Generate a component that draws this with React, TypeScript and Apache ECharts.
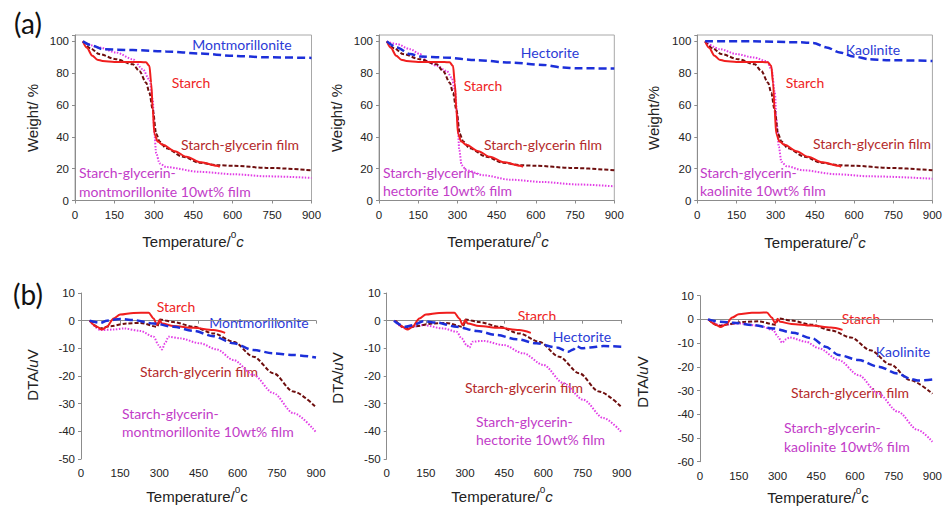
import React, { useEffect, useRef } from "react";
import * as echarts from "echarts";

type P = [number, number];

// ---- TGA (weight %) ----
const tgaStarch: P[] = [[30,100],[45,96],[66,91],[85,88.5],[105,87.7],[150,87.1],[200,87],[250,87],[270,86.8],[283,84.6],[290,74],[296,57],[302,42],[315,37],[334,35],[380,31],[424,27.5],[480,24],[539,21.8],[551,21.2]];
const tgaFilm: P[] = [[30,100],[60,95.5],[92,92],[156,88.8],[220,85.6],[245,81.4],[271,74],[283,67.7],[296,57],[309,42],[322,37],[347,32.8],[411,27.5],[475,23.7],[539,22.2],[603,21.8],[730,20.5],[900,19]];
const tgaMmt: P[] = [[30,100],[66,97.3],[105,95.1],[220,94.5],[347,93.7],[475,92.4],[603,90.9],[730,90],[900,89.6]];
const tgaMmtFilm: P[] = [[30,100],[92,96.2],[156,93],[220,88.8],[258,82.5],[283,76],[296,63.4],[302,42],[309,29.6],[322,23.3],[347,21],[475,18],[603,16.5],[730,15.2],[900,14.2]];
const tgaHec: P[] = [[30,100],[68,96.2],[119,92],[157,90.5],[246,89.9],[374,88.2],[501,86.7],[628,85.2],[705,83.5],[756,83.1],[900,82.9]];
const tgaHecFilm: P[] = [[30,100],[68,98.3],[119,95.1],[157,92],[182,87.7],[221,84.6],[259,81.4],[278,77.2],[290,69.8],[300,52.9],[307,31.7],[316,22.2],[335,19],[399,15.9],[501,13.1],[628,11.6],[756,10.1],[900,8.9]];
const tgaKao: P[] = [[30,100],[214,100],[393,99.4],[444,99],[495,96.2],[546,93],[597,90.5],[660,88.8],[724,88.2],[900,87.7]];
const tgaKaoFilm: P[] = [[30,100],[87,95.1],[150,92],[214,89.9],[265,87.7],[284,82.5],[297,67.7],[303,50.7],[312,33.8],[322,24.3],[341,21.6],[405,19],[533,16.5],[660,15.2],[900,13.7]];

// ---- DTA (uV) ----
const dtaStarch: P[] = [[33,0],[61,-2.2],[80,-3.2],[99,-2.2],[125,0.8],[150,2.2],[201,2.8],[259,2.9],[278,0.8],[291,-1.6],[301,0.2],[310,-1],[354,-1.9],[431,-2.6],[507,-3.4],[552,-4.4]];
const dtaFilm: P[] = [[33,0],[74,-2.8],[112,-2],[176,-1],[227,-0.8],[291,-2.2],[303,0.4],[354,-0.5],[431,-2.2],[507,-4.6],[584,-7.6],[660,-13],[737,-19],[813,-25.6],[900,-31.3]];
const dtaMmt: P[] = [[33,0],[74,-0.8],[99,0],[150,0.6],[201,0.2],[278,-1],[354,-2.2],[431,-3.7],[507,-5.6],[584,-8.2],[660,-10.6],[737,-11.8],[813,-12.4],[900,-13.3]];
const dtaMmtFilm: P[] = [[33,0],[74,-3.4],[125,-3.2],[163,-2.8],[227,-3.7],[278,-5.8],[297,-8.8],[310,-10.4],[322,-8.2],[335,-5.8],[380,-6.4],[456,-8.2],[520,-10.4],[584,-14.2],[660,-19.6],[737,-26.2],[813,-33.4],[900,-40.3]];
const dtaHec: P[] = [[28,0],[70,-2.2],[102,-1.6],[140,-0.2],[191,-0.7],[268,-2.2],[345,-3.7],[421,-5.2],[498,-6.7],[574,-8.2],[651,-9.7],[696,-11.2],[715,-10.4],[728,-9.2],[747,-10],[779,-9.7],[830,-9.2],[900,-9.4]];
const dtaHecFilm: P[] = [[28,0],[70,-2.8],[140,-1.6],[217,-2.8],[268,-4],[287,-6.4],[306,-8.8],[317,-9.7],[329,-7.6],[370,-7.3],[447,-8.8],[523,-11.8],[600,-16],[677,-22.6],[753,-28.6],[830,-35.2],[900,-40.4]];
const dtaKao: P[] = [[31,0],[79,-1],[130,-1.4],[206,-2.4],[283,-3.8],[359,-5.6],[435,-8],[486,-11.5],[537,-15],[614,-17.1],[690,-19.9],[766,-22.8],[817,-25.1],[843,-25.8],[900,-25.3]];
const dtaKaoFilm: P[] = [[31,0],[79,-2.4],[155,-1.7],[232,-2.7],[283,-4.5],[302,-7.3],[318,-9.8],[334,-8.4],[346,-7.6],[410,-9.4],[461,-12.2],[537,-17.1],[614,-23.5],[690,-31.2],[766,-38.9],[843,-46.6],[900,-51.6]];

const xTicks = { min: 0, max: 900, interval: 150 };
const tgaRange = { min: 0, max: 104, interval: 20 };
const dtaRange = { min: -50, max: 10, interval: 10 };
const dtaRangeKao = { min: -60, max: 10, interval: 10 };

const clayNames = ["Montmorillonite", "Hectorite", "Kaolinite"];

const C = {
  starch: "#f01e1e",
  film: "#6e0e0e",
  clay: "#1c2fd9",
  clayFilm: "#e23ee6",
  tStarch: "#ee2424",
  tFilm: "#b42a2a",
  tClay: "#2b3bd6",
  tClayFilm: "#c23cc8",
};

const AX = "#8c8c8c";
const LABEL_FONT = "'Liberation Sans', Arial, sans-serif";
const ANN_FONT = "Lato, 'Noto Sans', sans-serif";

export default function App() {
  const ref = useRef<HTMLDivElement>(null);
  useEffect(() => {
    if (!ref.current) return;
    const chart = echarts.init(ref.current, undefined, { renderer: "svg" });

    const grids = [
      { left: 75, top: 35, width: 236.5, height: 165.5, show: true, borderColor: "#a8a8a8", borderWidth: 1 },
      { left: 379, top: 35, width: 235.3, height: 165.5, show: true, borderColor: "#a8a8a8", borderWidth: 1 },
      { left: 697.3, top: 35, width: 235.4, height: 165.5, show: true, borderColor: "#a8a8a8", borderWidth: 1 },
      { left: 81, top: 293, width: 235, height: 166 },
      { left: 386.7, top: 293, width: 235, height: 166 },
      { left: 700, top: 295.7, width: 235, height: 166 },
    ];

    const xAxis = grids.map((_, i) => ({
      gridIndex: i,
      type: "value",
      ...xTicks,
      axisLine: { show: true, lineStyle: { color: AX } },
      axisTick: { show: true, length: 3, lineStyle: { color: AX } },
      splitLine: { show: false },
      axisLabel: { color: "#222", fontSize: 11.5, fontFamily: LABEL_FONT, margin: 8 },
    }));

    const yRanges = [tgaRange, tgaRange, tgaRange, dtaRange, dtaRange, dtaRangeKao];
    const yAxis = yRanges.map((r, i) => ({
      gridIndex: i,
      type: "value",
      ...r,
      axisLine: { show: true, lineStyle: { color: AX } },
      axisTick: { show: true, length: 3, lineStyle: { color: AX } },
      splitLine: { show: false },
      axisLabel: {
        color: "#222",
        fontSize: 11.5,
        fontFamily: LABEL_FONT,
        margin: 6,
        formatter: (v: number) => (Math.abs(v % 10) < 1e-6 && (i >= 3 || v % 20 === 0) ? String(v) : ""),
      },
    }));

    const mk = (data: P[], g: number, kind: "starch" | "film" | "clay" | "clayFilm") => {
      const styles: Record<string, any> = {
        starch: { color: C.starch, width: 2, type: "solid" },
        film: { color: C.film, width: 2, type: [4, 2] },
        clay: { color: C.clay, width: 2.5, type: [8, 4] },
        clayFilm: { color: C.clayFilm, width: 2, type: [1.5, 1.5] },
      };
      return {
        type: "line",
        xAxisIndex: g,
        yAxisIndex: g,
        data,
        showSymbol: false,
        smooth: 0.3,
        smoothMonotone: "x",
        lineStyle: styles[kind],
        silent: true,
      };
    };

    const tgaClay = [tgaMmt, tgaHec, tgaKao];
    const tgaClayFilm = [tgaMmtFilm, tgaHecFilm, tgaKaoFilm];
    const dtaClay = [dtaMmt, dtaHec, dtaKao];
    const dtaClayFilm = [dtaMmtFilm, dtaHecFilm, dtaKaoFilm];

    const series: any[] = [];
    for (let i = 0; i < 3; i++) {
      series.push(mk(tgaClayFilm[i], i, "clayFilm"), mk(tgaFilm, i, "film"), mk(tgaStarch, i, "starch"), mk(tgaClay[i], i, "clay"));
    }
    for (let i = 0; i < 3; i++) {
      series.push(mk(dtaClayFilm[i], i + 3, "clayFilm"), mk(dtaFilm, i + 3, "film"), mk(dtaStarch, i + 3, "starch"), mk(dtaClay[i], i + 3, "clay"));
    }

    const ann = (text: string, x: number, y: number, fill: string, align = "center") => ({
      type: "text",
      x,
      y,
      silent: true,
      style: { text, fill, fontSize: 14, fontFamily: ANN_FONT, align, verticalAlign: "middle" },
    });

    const tempTitle = (x: number, y: number, italic: boolean) => ({
      type: "text",
      x,
      y,
      silent: true,
      style: {
        text: "{a|Temperature/}{s|o}{c|c}",
        align: "center",
        verticalAlign: "middle",
        rich: {
          a: { fontSize: 15, fontFamily: LABEL_FONT, fill: "#222", lineHeight: 20, verticalAlign: "bottom" },
          s: { fontSize: 10, fontFamily: LABEL_FONT, fill: "#222", lineHeight: 11, verticalAlign: "top" },
          c: { fontSize: 15, fontFamily: LABEL_FONT, fill: "#222", lineHeight: 20, verticalAlign: "bottom", fontStyle: italic ? "italic" : "normal" },
        },
      },
    });

    const rotTitle = (x: number, y: number, text: string, rich?: any) => ({
      type: "text",
      x,
      y,
      rotation: Math.PI / 2,
      silent: true,
      style: { text, align: "center", verticalAlign: "middle", fontSize: 15, fontFamily: LABEL_FONT, fill: "#222", rich },
    });

    const dtaRich = {
      a: { fontSize: 15, fontFamily: LABEL_FONT, fill: "#222" },
      i: { fontSize: 15, fontFamily: LABEL_FONT, fill: "#222", fontStyle: "italic" },
    };

    const graphic: any[] = [
      { type: "text", x: 28, y: 23, silent: true, style: { text: "(a)", fontSize: 28, fontFamily: ANN_FONT, fill: "#111", align: "center", verticalAlign: "middle" } },
      { type: "text", x: 28, y: 294, silent: true, style: { text: "(b)", fontSize: 28, fontFamily: ANN_FONT, fill: "#111", align: "center", verticalAlign: "middle" } },

      rotTitle(32, 118, "Weight/ %"),
      rotTitle(336, 118, "Weight/ %"),
      rotTitle(653, 118, "Weight/%"),
      tempTitle(193, 239, true),
      tempTitle(498, 239, true),
      tempTitle(815, 240, true),

      rotTitle(32, 375, "{a|DTA/}{i|u}{a|V}", dtaRich),
      rotTitle(337, 378, "{a|DTA/}{i|u}{a|V}", dtaRich),
      rotTitle(642, 382, "{a|DTA/}{i|u}{a|V}", dtaRich),
      tempTitle(197, 494, false),
      tempTitle(502, 494, true),
      tempTitle(818, 495, false),

      // panel a1
      ann(clayNames[0], 242, 44, C.tClay),
      ann("Starch", 191, 82, C.tStarch),
      ann("Starch-glycerin film", 240, 144, C.tFilm),
      ann("Starch-glycerin-", 79, 172, C.tClayFilm, "left"),
      ann("montmorillonite 10wt% film", 79, 191, C.tClayFilm, "left"),
      // panel a2
      ann(clayNames[1], 550, 52, C.tClay),
      ann("Starch", 483, 85, C.tStarch),
      ann("Starch-glycerin film", 543, 144, C.tFilm),
      ann("Starch-glycerin-", 383, 172, C.tClayFilm, "left"),
      ann("hectorite 10wt% film", 383, 190, C.tClayFilm, "left"),
      // panel a3
      ann(clayNames[2], 873, 49, C.tClay),
      ann("Starch", 805, 82, C.tStarch),
      ann("Starch-glycerin film", 872, 143, C.tFilm),
      ann("Starch-glycerin-", 700, 172, C.tClayFilm, "left"),
      ann("kaolinite 10wt% film", 700, 190, C.tClayFilm, "left"),
      // panel b1
      ann("Starch", 176, 306, C.tStarch),
      ann(clayNames[0], 259, 322, C.tClay),
      ann("Starch-glycerin film", 199, 371, C.tFilm),
      ann("Starch-glycerin-", 122, 413, C.tClayFilm, "left"),
      ann("montmorillonite 10wt% film", 122, 431, C.tClayFilm, "left"),
      // panel b2
      ann("Starch", 537, 315, C.tStarch),
      ann(clayNames[1], 582, 336, C.tClay),
      ann("Starch-glycerin film", 524, 387, C.tFilm),
      ann("Starch-glycerin-", 476, 421, C.tClayFilm, "left"),
      ann("hectorite 10wt% film", 476, 439, C.tClayFilm, "left"),
      // panel b3
      ann("Starch", 861, 318, C.tStarch),
      ann(clayNames[2], 903, 351, C.tClay),
      ann("Starch-glycerin film", 850, 392, C.tFilm),
      ann("Starch-glycerin-", 784, 427, C.tClayFilm, "left"),
      ann("kaolinite 10wt% film", 784, 446, C.tClayFilm, "left"),
    ];

    chart.setOption({
      animation: false,
      backgroundColor: "#ffffff",
      grid: grids,
      xAxis,
      yAxis,
      series,
      graphic,
    } as any);

    return () => chart.dispose();
  }, []);

  return <div ref={ref} style={{ position: "absolute", left: 0, top: 0, width: 945, height: 508, background: "#fff" }} />;
}
